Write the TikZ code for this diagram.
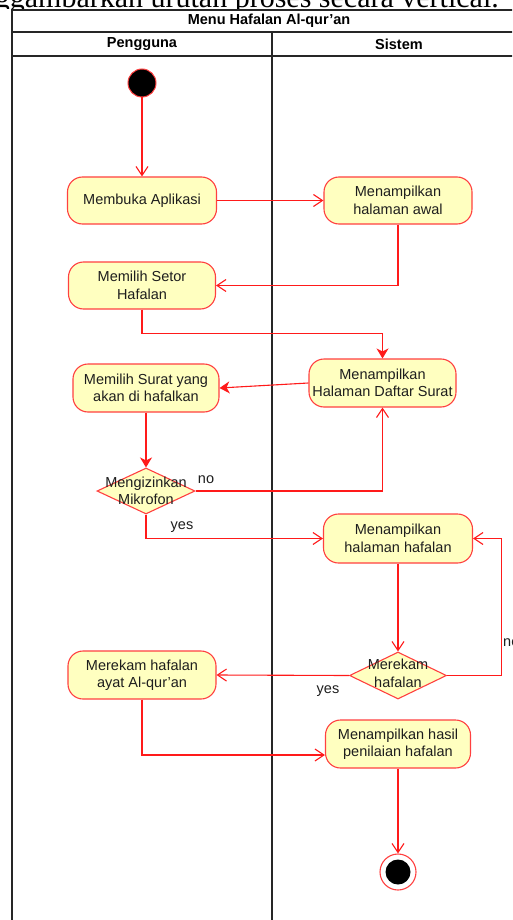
\documentclass[tikz,border=0pt]{standalone}
\usepackage{fontspec}
\setmainfont{Liberation Sans}
\newfontfamily\bodyserif{Liberation Serif}
\usetikzlibrary{arrows.meta,shapes.geometric}
\definecolor{flowred}{HTML}{FF1A1A}
\definecolor{edgered}{HTML}{FF4040}
\definecolor{actfill}{HTML}{FFFFC0}
\definecolor{txt}{HTML}{1E1E1E}
\begin{document}
\begin{tikzpicture}[x=1pt,y=-1pt,
  every node/.style={font=\fontsize{14.5}{17.5}\selectfont, text=txt},
  action/.style={draw=edgered, fill=actfill, line width=1.1pt, rounded corners=15pt,
    minimum width=148pt, minimum height=47pt, align=center, inner sep=0pt},
  decision/.style={draw=edgered, fill=actfill, line width=1.1pt, diamond,
    minimum width=98pt, minimum height=46pt, inner sep=0pt},
  dtext/.style={align=center, inner sep=0pt},
  hdr/.style={font=\bfseries\fontsize{14.5}{17.5}\selectfont, text=black, inner sep=0pt},
  lbl/.style={inner sep=0pt},
  frame/.style={line width=1.3pt, draw=black!85},
  flow/.style={draw=flowred, line width=1.1pt},
  openarrow/.style={-{Straight Barb[length=9pt,width=12pt]}},
  solidarrow/.style={-{Stealth[length=10pt,width=12pt,inset=3pt]}}
]
\useasboundingbox (0,0) rectangle (512,920);
\clip (0,0) rectangle (512,920);
\fill[white] (0,0) rectangle (512,920);

% line of body text running above the figure
\node[font=\bodyserif\fontsize{30}{36}\selectfont, text=black, anchor=base east, inner sep=0pt]
  (bodyline) at (499,7.5) {menggambarkan urutan proses secara vertical.};
\fill[white] (0,9.3) rectangle (512,920);

% swimlane frame
\draw[frame] (12,920) -- (12,10) -- (530,10);
\draw[frame] (12,32) -- (530,32);
\draw[frame] (12,56) -- (530,56);
\draw[frame] (272,32) -- (272,920);
\node[hdr] (title) at (269,21) {Menu Hafalan Al-qur'an};
\node[hdr] (lane1) at (142,44) {Pengguna};
\node[hdr] (lane2) at (399,44) {Sistem};

% activities
\node[circle, fill=black, draw=edgered, line width=1pt, minimum size=28pt, inner sep=0pt] (start) at (142,83) {};
\node[action, minimum width=149pt] (a1) at (142,200.5) {Membuka Aplikasi};
\node[action] (a2) at (398,200.5) {Menampilkan\\halaman awal};
\node[action, minimum width=147pt] (a3) at (142,285.5) {Memilih Setor\\Hafalan};
\node[action, minimum width=147pt, minimum height=48pt] (a4) at (382.5,383) {Menampilkan\\Halaman Daftar Surat};
\node[action, minimum width=146pt, minimum height=48pt] (a5) at (146,388) {Memilih Surat yang\\akan di hafalkan};
\node[decision] (d1) at (146,491) {};
\node[dtext] (d1t) at (146,491) {Mengizinkan\\Mikrofon};
\node[action, minimum width=149pt, minimum height=49pt] (a6) at (398,538.5) {Menampilkan\\halaman hafalan};
\node[decision, minimum width=97pt, minimum height=47pt] (d2) at (398,675.5) {};
\node[dtext] (d2t) at (398,673.5) {Merekam\\hafalan};
\node[action, minimum height=48pt] (a7) at (142,675) {Merekam hafalan\\ayat Al-qur'an};
\node[action, minimum width=145pt, minimum height=48pt] (a8) at (398,744) {Menampilkan hasil\\penilaian hafalan};
\node[circle, draw=edgered, fill=white, line width=1.1pt, minimum size=36pt, inner sep=0pt] (end) at (398,872) {};
\fill[black] (end.center) circle (12.5pt);

% control flows
\draw[flow, openarrow] (start) -- (a1);
\draw[flow, openarrow] (a1) -- (a2);
\draw[flow, openarrow] (a2.south) |- (a3.east);
\draw[flow, solidarrow] (a3.south) -- ++(0,24) -| (a4.north);
\draw[flow, solidarrow] (a4.west) -- (a5.east);
\draw[flow, solidarrow] (a5) -- (d1);
\draw[flow, openarrow] (d1.east) -| (a4.south);
\draw[flow, openarrow] (d1.south) |- (a6.west);
\draw[flow, openarrow] (a6) -- (d2);
\draw[flow, openarrow] (d2.east) -- ++(54,0) |- (a6.east);
\draw[flow, openarrow] (d2.west) -- (a7.east);
\draw[flow, openarrow] (a7.south) |- ([yshift=-11pt]a8.west);
\draw[flow, openarrow] (a8) -- (end);

% guard labels
\node[lbl] (no1) at (206,480) {no};
\node[lbl] (yes1) at (182,527) {yes};
\node[lbl] (yes2) at (328,691) {yes};
\node[lbl, anchor=west] (no2) at (503,643) {no};
\end{tikzpicture}
\end{document}
